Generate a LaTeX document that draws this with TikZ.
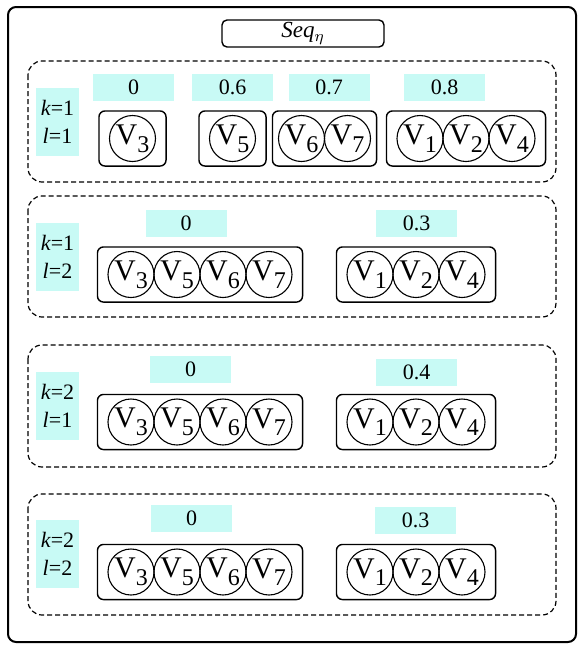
\documentclass[tikz,border=0pt]{standalone}
\usepackage{fontspec}
\setmainfont{Liberation Serif}
\usetikzlibrary{fit}
\definecolor{valcyan}{RGB}{200,250,245}
\newcommand{\vx}[1]{V\raisebox{-3.8pt}{\fontsize{12}{12}\selectfont #1}}

\begin{document}
\begin{tikzpicture}[x=0.5pt,y=-0.5pt]
\tikzstyle{place}=[circle, draw=black, line width=0.55pt, minimum size=23pt, inner sep=0pt, font=\fontsize{15}{17}\selectfont]
\tikzstyle{group}=[draw=black, rounded corners=3pt, line width=0.7pt, inner xsep=5pt, inner ysep=2pt]
\tikzstyle{val}=[fill=valcyan, minimum width=40.5pt, minimum height=13.5pt, inner sep=0pt, font=\fontsize{11}{13}\selectfont]
\tikzstyle{lab}=[fill=valcyan, minimum width=21.5pt, minimum height=34pt, inner sep=0pt, align=center, font=\fontsize{11}{14}\selectfont]
\tikzstyle{row}=[draw=black, dash pattern=on 2.5pt off 1.5pt, rounded corners=7pt, line width=0.6pt]

\useasboundingbox (0,0) rectangle (583,649);

% Frame and title
\draw [rounded corners=4pt, line width=1pt] (8,7) rectangle (576,642);
\node at (303,33.5) [draw, rounded corners=2.5pt, line width=0.7pt, minimum width=81pt, minimum height=13.5pt, inner sep=0pt, font=\fontsize{11.5}{13}\selectfont] (seq) {\textit{Seq}$_\eta$};

% Rows
\foreach \a/\b in {61/182,196/317,345/467,494/615}
\draw [row] (28,\a) rectangle (556,\b);

% k, l labels
\foreach \r/\y/\k/\l in {1/122/1/1,2/256.5/1/2,3/405.5/2/1,4/554/2/2}
\node at (57.5,\y) [lab] (lab\r) {\textit{k}=\k\\\textit{l}=\l};

% Row 1
\node at (132.5,138.5) [place] (c1_3) {\vx{3}};
\node at (232.5,138.5) [place] (c1_5) {\vx{5}};
\node at (301.5,138.5) [place] (c1_6) {\vx{6}};
\node at (347.5,138.5) [place] (c1_7) {\vx{7}};
\foreach \v [count=\i] in {1,2,4}
\node at ({374+46*\i},138.5) [place] (c1_\v) {\vx{\v}};
\node [group, fit=(c1_3)] (g1_a) {};
\node [group, fit=(c1_5)] (g1_b) {};
\node [group, inner xsep=2.75pt, fit=(c1_6)(c1_7)] (g1_c) {};
\node [group, fit=(c1_1)(c1_4)] (g1_d) {};
\foreach \x/\t [count=\i] in {133.5/0,232.5/0.6,329/0.7,444.5/0.8}
\node at (\x,87.5) [val] (v1_\i) {\t};

% Rows 2-4
\foreach \r/\y in {2/274.5,3/422,4/572} {
\foreach \v [count=\i] in {3,5,6,7}
\node at ({85+46*\i},\y) [place] (c\r_\v) {\vx{\v}};
\foreach \v [count=\i] in {1,2,4}
\node at ({324+46*\i},\y) [place] (c\r_\v) {\vx{\v}};
\node [group, fit=(c\r_3)(c\r_7)] (g\r_a) {};
\node [group, fit=(c\r_1)(c\r_4)] (g\r_b) {};
}
\foreach \r/\xa/\ya/\ta/\xb/\yb/\tb in {2/186/223.5/0/416.5/223.5/0.3,3/190.5/369.5/0/416.5/372.5/0.4,4/191.5/518.5/0/415.5/520.5/0.3} {
\node at (\xa,\ya) [val] (v\r_1) {\ta};
\node at (\xb,\yb) [val] (v\r_2) {\tb};
}
\end{tikzpicture}
\end{document}
